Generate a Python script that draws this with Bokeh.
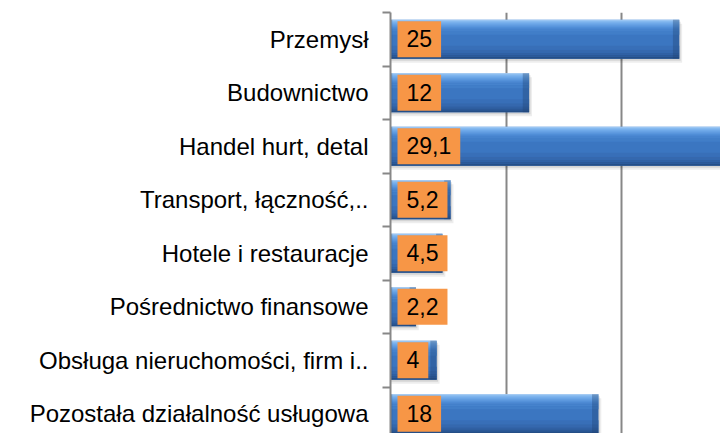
from bokeh.plotting import figure
from bokeh.models import Range1d, FixedTicker
from bokeh.embed import file_html
from bokeh.resources import INLINE
from bokeh.core.properties import value

# ---- data ----
categories = ["Przemysł", "Budownictwo", "Handel hurt, detal", "Transport, łączność,..",
              "Hotele i restauracje", "Pośrednictwo finansowe",
              "Obsługa nieruchomości, firm i..", "Pozostała działalność usługowa"]
values = [25, 12, 29.1, 5.2, 4.5, 2.2, 4, 18]
value_labels = ["25", "12", "29,1", "5,2", "4,5", "2,2", "4", "18"]
grid_ticks = [10, 20]

# ---- layout constants ----
W, H = 720, 433
BORDER_LEFT, BORDER_TOP = 390, 12
BAND_PX = 53.5          # pixels per category band
X_PX = 11.55            # pixels per value unit
PX = 1.0 / BAND_PX
FONT = "Liberation Sans"

n = len(categories)
centers = [i + 0.5 for i in range(n)]
bounds = [float(i) for i in range(n + 1)]

frame_w = W - BORDER_LEFT
frame_h = H - BORDER_TOP

p = figure(width=W, height=H, output_backend="svg", toolbar_location=None,
           x_range=Range1d(0, frame_w / X_PX),
           y_range=Range1d(frame_h / BAND_PX, 0),
           min_border_left=BORDER_LEFT, min_border_right=0,
           min_border_top=BORDER_TOP, min_border_bottom=0)
p.outline_line_color = None
p.background_fill_color = "white"
p.border_fill_color = "white"

# grid
p.xaxis.visible = False
p.xgrid.ticker = FixedTicker(ticks=grid_ticks)
p.xgrid.grid_line_color = "#878787"
p.xgrid.grid_line_width = 2
p.ygrid.visible = False

# y axis with boundary ticks (minor) and centered labels (major)
ax = p.yaxis[0]
ax.ticker = FixedTicker(ticks=centers, minor_ticks=bounds)
ax.major_label_overrides = {c: lab for c, lab in zip(centers, categories)}
ax.major_tick_out = 0
ax.major_tick_in = 0
ax.minor_tick_out = 8
ax.minor_tick_in = 0
ax.minor_tick_line_color = "#878787"
ax.minor_tick_line_width = 2
ax.axis_line_color = "#878787"
ax.axis_line_width = 2
ax.major_label_standoff = 14
ax.major_label_text_font = FONT
ax.major_label_text_font_size = "24px"
ax.major_label_text_color = "#000000"

# bars
BAR_H_PX = 39
bar_h = BAR_H_PX * PX
top_edge = [c - bar_h / 2 for c in centers]

def strip(a, b, color, alpha=1.0):
    ys = [t + (a + b) / 2 * PX for t in top_edge]
    p.hbar(y=ys, left=0, right=values,
           height=(b - a) * PX, fill_color=color, fill_alpha=alpha, line_color=None)

# shadow
p.hbar(y=[c + 4 * PX for c in centers], left=0, right=[v + 0.25 for v in values],
       height=bar_h, fill_color="#000000", fill_alpha=0.07, line_color=None)
p.hbar(y=[c + 2 * PX for c in centers], left=0, right=[v + 0.12 for v in values],
       height=bar_h, fill_color="#000000", fill_alpha=0.10, line_color=None)

# body with vertical gradient
p.hbar(y=centers, left=0, right=values, height=bar_h,
       fill_color="#3B76C1", line_color=None)
grad = [(0, 1, "#B8DCFF"), (1, 2, "#9DCDFB"), (2, 3, "#8CC2F7"), (3, 4, "#80B9F3"),
        (4, 5, "#76B0EE"), (5, 6, "#6CA7E9"), (6, 7, "#639FE4"), (7, 8, "#5A97DE"),
        (8, 9, "#528FD8"), (9, 10, "#4C89D2"), (10, 12, "#4683CD"), (12, 15, "#417EC8"),
        (26, 30, "#386FB8"), (30, 33, "#3568AE"), (33, 35, "#3060A3"),
        (35, 37, "#2B5897"), (37, 39, "#254E86")]
for a, b, col in grad:
    strip(a, b, col)

# right bevel and left edge
p.hbar(y=centers, left=[v - 0.55 for v in values], right=values, height=bar_h,
       fill_color="#1F4270", fill_alpha=0.35, line_color=None)
p.hbar(y=centers, left=0, right=0.15, height=bar_h,
       fill_color="#1F4270", fill_alpha=0.3, line_color=None)

# value labels in orange boxes
p.text(x=[0] * n, y=centers, text=value_labels,
       text_font=value(FONT), text_font_size="23px", text_color="#000000",
       text_align="left", text_baseline="middle", x_offset=7, y_offset=0,
       background_fill_color="#F79646",
       padding=dict(left=9, right=9, top=9, bottom=10))

open("out.html", "w").write(file_html(p, INLINE))
